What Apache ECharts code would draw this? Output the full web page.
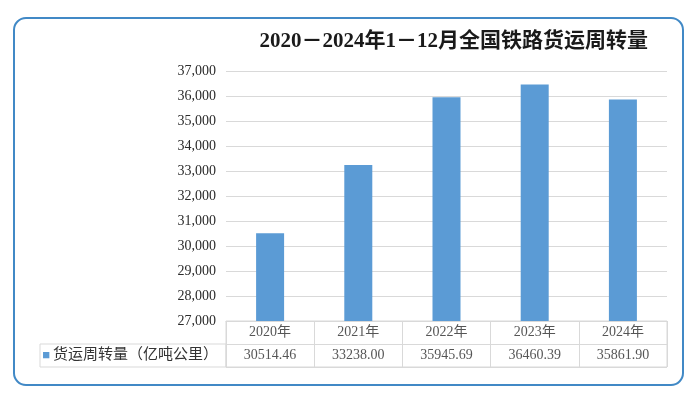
<!DOCTYPE html>
<html><head><meta charset="utf-8">
<script src="https://cdn.jsdelivr.net/npm/echarts@6/dist/echarts.min.js"></script>
<style>html,body{margin:0;padding:0;background:#fff}#c{width:700px;height:393px}</style>
</head><body><div id="c"></div>
<script>
const years = ['2020年', '2021年', '2022年', '2023年', '2024年'];
const values = [30514.46, 33238.00, 35945.69, 36460.39, 35861.90];
const valueLabels = ['30514.46', '33238.00', '35945.69', '36460.39', '35861.90'];
const seriesName = '货运周转量（亿吨公里）';
const titleText = '2020－2024年1－12月全国铁路货运周转量';
const yMin = 27000, yMax = 37000, yStep = 1000;

const FONT = '"Liberation Serif", "Noto Sans CJK SC", serif';
const BAR = '#5b9bd5';
const LINE = '#d9d9d9';
const gLeft = 226, gRight = 33, gTop = 71, gBottom = 321;
const tTop = 321, tH = 46, leftCellX = 40;

const tableData = [];
years.forEach((y, i) => tableData.push({ value: [i, 0], label: { formatter: y } }));
valueLabels.forEach((v, i) => tableData.push({ value: [i, 1], label: { formatter: v } }));

const chart = echarts.init(document.getElementById('c'), null, { renderer: 'canvas' });
chart.setOption({
  animation: false,
  backgroundColor: '#fff',
  title: {
    text: titleText, right: 47, top: 26,
    textStyle: { fontFamily: FONT, fontSize: 21, fontWeight: 'bold', color: '#1a1a1a' }
  },
  grid: [
    { left: gLeft, right: gRight, top: gTop, height: gBottom - gTop },
    { left: gLeft, right: gRight, top: tTop, height: tH, show: true, borderColor: LINE, borderWidth: 1 }
  ],
  xAxis: [
    { type: 'category', gridIndex: 0, data: years, axisLine: { show: true, lineStyle: { color: LINE } },
      axisTick: { show: false }, axisLabel: { show: false } },
    { type: 'category', gridIndex: 1, data: years, axisLine: { show: false }, axisTick: { show: false },
      axisLabel: { show: false }, splitLine: { show: true, lineStyle: { color: LINE } } }
  ],
  yAxis: [
    { type: 'value', gridIndex: 0, min: yMin, max: yMax, interval: yStep,
      axisLine: { show: false }, axisTick: { show: false },
      splitLine: { lineStyle: { color: LINE } },
      axisLabel: { margin: 10, fontFamily: FONT, fontSize: 14, color: '#2b2b2b',
        formatter: v => v.toLocaleString('en-US') } },
    { type: 'category', gridIndex: 1, data: ['year', 'value'], inverse: true,
      axisLine: { show: false }, axisTick: { show: false },
      splitLine: { show: true, lineStyle: { color: LINE } },
      axisLabel: { margin: 8, fontFamily: FONT, fontSize: 15, color: '#333',
        formatter: v => v === 'value' ? '{sq|■}{t|' + seriesName + '}' : '',
        rich: { sq: { color: BAR, fontSize: 13, padding: [0, 3, 0, 0] },
                t: { fontFamily: FONT, fontSize: 15, color: '#333' } } } }
  ],
  graphic: [
    { type: 'rect', shape: { x: 14, y: 18, width: 669, height: 367, r: 12 },
      style: { fill: 'none', stroke: '#4189c6', lineWidth: 2 }, z: 100 },
    { type: 'rect', shape: { x: leftCellX, y: tTop + tH / 2, width: gLeft - leftCellX, height: tH / 2 },
      style: { fill: 'none', stroke: LINE, lineWidth: 1 }, z: 50 }
  ],
  series: [
    { type: 'bar', xAxisIndex: 0, yAxisIndex: 0, data: values, barWidth: 28,
      itemStyle: { color: BAR } },
    { type: 'scatter', xAxisIndex: 1, yAxisIndex: 1, data: tableData, symbolSize: 1,
      itemStyle: { color: 'rgba(0,0,0,0)' },
      label: { show: true, position: 'inside', fontFamily: FONT, fontSize: 14, color: '#2b2b2b' } }
  ]
});
</script>
</body></html>
